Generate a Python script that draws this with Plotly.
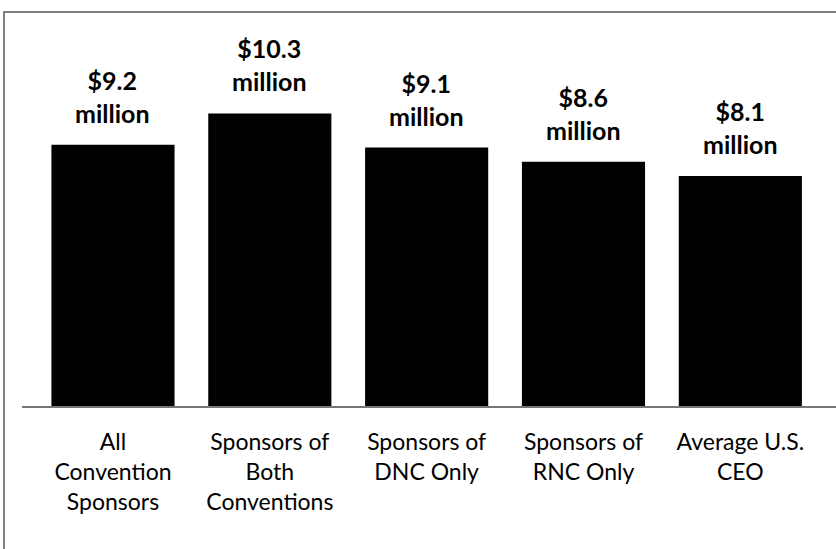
import plotly.graph_objects as go

categories = ["All<br>Convention<br>Sponsors", "Sponsors of<br>Both<br>Conventions",
              "Sponsors of<br>DNC Only", "Sponsors of<br>RNC Only", "Average U.S.<br>CEO"]
values = [9.2, 10.3, 9.1, 8.6, 8.1]
value_labels = ["$9.2<br>million", "$10.3<br>million", "$9.1<br>million",
                "$8.6<br>million", "$8.1<br>million"]
title_text = "Average CEO Pay"

FONT = "Lato, 'Open Sans', sans-serif"

fig = go.Figure()
fig.add_trace(go.Bar(
    x=list(range(len(categories))), y=values,
    marker=dict(color="black", line=dict(width=0)),
    hoverinfo="skip",
))

for i, (v, lab) in enumerate(zip(values, value_labels)):
    fig.add_annotation(x=i, y=v, xref="x", yref="y", text="<b>" + lab + "</b>",
                       showarrow=False, yanchor="bottom", yshift=15,
                       font=dict(family=FONT, size=25, color="black"))

# clipped title fragment (only descenders visible above the frame, as in the original)
fig.add_annotation(x=(62 - 22) / 814, xref="paper", y=1, yref="paper", text=title_text,
                   showarrow=False, xanchor="left", yanchor="bottom", yshift=10,
                   font=dict(family=FONT, size=22, color="black"))

# border box
fig.add_shape(type="rect", xref="paper", yref="paper",
              x0=(4 - 22) / 814, x1=1.02, y0=-0.45, y1=1,
              line=dict(color="#555555", width=1.5), layer="below")

fig.update_layout(
    width=836, height=549,
    margin=dict(l=22, r=0, t=12, b=143),
    plot_bgcolor="white", paper_bgcolor="white",
    bargap=0.215, showlegend=False,
    font=dict(family=FONT, color="black"),
    xaxis=dict(range=[-0.58, 4.61], tickmode="array",
               tickvals=list(range(len(categories))), ticktext=categories,
               showgrid=False, zeroline=False, showline=True,
               linecolor="#777777", linewidth=1.5, ticks="",
               ticklabelstandoff=15,
               tickfont=dict(family=FONT, size=23, color="black"), fixedrange=True),
    yaxis=dict(range=[0, 13.87], visible=False, showgrid=False, fixedrange=True),
)

fig.write_html("out.html")
